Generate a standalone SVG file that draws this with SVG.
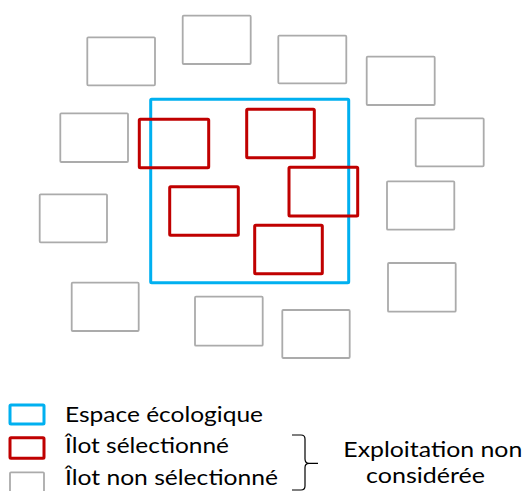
<svg xmlns="http://www.w3.org/2000/svg" width="526" height="491" viewBox="0 0 526 491">
<style>
.g{fill:none;stroke:#ABABAB;stroke-width:1.8}
.r{fill:none;stroke:#C00000;stroke-width:3}
.b{fill:none;stroke:#00B0F0;stroke-width:3}
.t{font-family:Lato,"Open Sans","Liberation Sans",sans-serif;font-size:21px;fill:#000}
</style>
<rect width="526" height="491" fill="#fff"/>
<g id="unselected">
<rect id="u1" class="g" x="87.3" y="37.3" width="67.7" height="48" rx="1"/>
<rect id="u2" class="g" x="182.7" y="15.7" width="68" height="48.3" rx="1"/>
<rect id="u3" class="g" x="278.3" y="35.7" width="68" height="47.6" rx="1"/>
<rect id="u4" class="g" x="366.7" y="56.7" width="68" height="48.3" rx="1"/>
<rect id="u5" class="g" x="60.3" y="113.3" width="67.7" height="48.7" rx="1"/>
<rect id="u6" class="g" x="415.7" y="118.3" width="68" height="48" rx="1"/>
<rect id="u7" class="g" x="39.7" y="194.3" width="67.3" height="48" rx="1"/>
<rect id="u8" class="g" x="387" y="181.3" width="67.3" height="48.4" rx="1"/>
<rect id="u9" class="g" x="71.7" y="282.7" width="67" height="48.3" rx="1"/>
<rect id="u10" class="g" x="388" y="263" width="67.7" height="48.7" rx="1"/>
<rect id="u11" class="g" x="195" y="296.7" width="67.7" height="49" rx="1"/>
<rect id="u12" class="g" x="282.3" y="310" width="67.4" height="48" rx="1"/>
</g>
<g id="espace">
<rect class="b" x="150.7" y="99.3" width="198" height="183.4" rx="1"/>
</g>
<g id="selected">
<rect id="s1" class="r" x="139.3" y="119.3" width="69.4" height="48.4" rx="1"/>
<rect id="s2" class="r" x="246.7" y="109.3" width="67.6" height="48.4" rx="1"/>
<rect id="s3" class="r" x="289" y="167.3" width="68.7" height="48.7" rx="1"/>
<rect id="s4" class="r" x="169.7" y="186.7" width="68.6" height="48.6" rx="1"/>
<rect id="s5" class="r" x="254.7" y="225.3" width="67.6" height="48.4" rx="1"/>
</g>
<g id="legend">
<rect class="b" x="10" y="405" width="34" height="19" rx="1"/>
<rect class="r" x="10" y="437.7" width="34" height="20.6" rx="1"/>
<rect class="g" x="10" y="472.3" width="34" height="22" rx="1"/>
<text class="t" x="65" y="421.7" textLength="198" lengthAdjust="spacingAndGlyphs">Espace écologique</text>
<text class="t" x="65" y="453.3" textLength="164" lengthAdjust="spacingAndGlyphs">Îlot sélectionné</text>
<text class="t" x="65" y="485" textLength="213" lengthAdjust="spacingAndGlyphs">Îlot non sélectionné</text>
<path d="M292 435 H301 Q305 435 305 439 V459 Q305 463.3 309 463.3 H318 M309 463.3 Q305 463.3 305 467.6 V486 Q305 490 301 490 H292" fill="none" stroke="#000" stroke-width="1.2"/>
<text class="t" x="343.3" y="456.7" textLength="179" lengthAdjust="spacingAndGlyphs">Exploitation non</text>
<text class="t" x="366" y="483" textLength="119" lengthAdjust="spacingAndGlyphs">considérée</text>
</g>
</svg>
